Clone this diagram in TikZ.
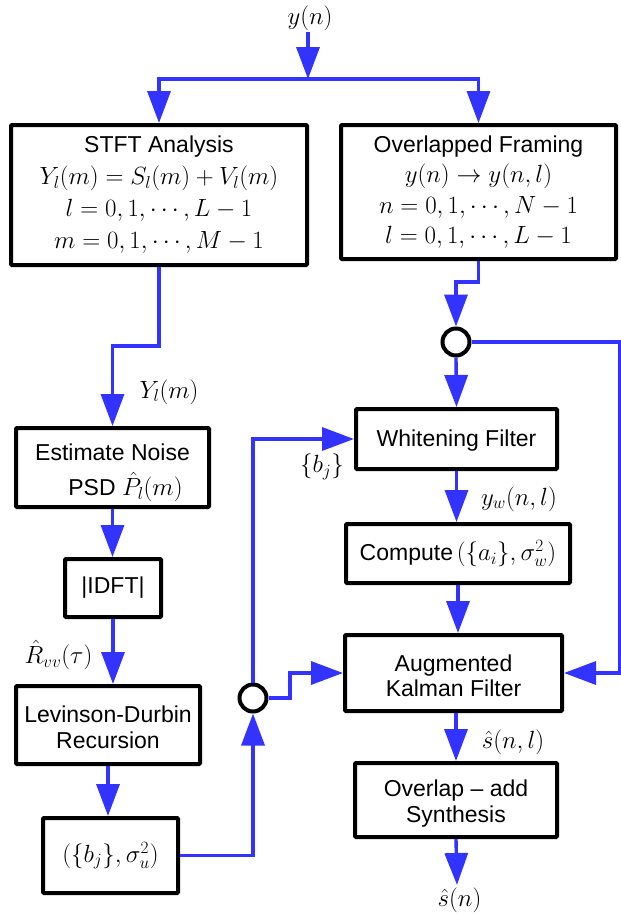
\documentclass[tikz,border=0pt]{standalone}
\usepackage[no-math]{fontspec}
\setmainfont{Liberation Sans}
\usetikzlibrary{arrows.meta,calc}
\definecolor{flowblue}{RGB}{51,51,255}
\newcommand{\mth}[1]{{\fontsize{25.5}{31}\selectfont$#1$}}
\newcommand{\lift}[1]{\rule{0pt}{#1}}
\begin{document}
\begin{tikzpicture}[x=1pt,y=-1pt,
  box/.style={draw=black, line width=4pt, rectangle, rounded corners=1pt, inner sep=0pt, align=center, fill=white},
  junc/.style={draw=black, line width=4pt, circle, inner sep=0pt, minimum size=27pt, fill=white},
  lbl/.style={inner sep=0pt, font=\fontsize{25.5}{31}\selectfont},
  flow/.style={draw=flowblue, line width=3.4pt, -{Triangle[length=32pt,width=23pt]}},
  wire/.style={draw=flowblue, line width=3.4pt}]
\useasboundingbox (0,0) rectangle (621,916);

% boxes
\node[box, minimum width=296pt, minimum height=140pt, font=\fontsize{23}{32}\selectfont] (stft) at (159,195)
  {STFT Analysis\\ \mth{Y_l(m)=S_l(m)+V_l(m)}\\ \mth{l=0,1,\cdots,L-1}\\ \mth{m=0,1,\cdots,M-1}};
\node[box, minimum width=275pt, minimum height=134pt, font=\fontsize{23}{30.5}\selectfont] (ovl) at (478.5,192)
  {Overlapped Framing\\ \mth{y(n)\rightarrow y(n,l)}\\ \mth{n=0,1,\cdots,N-1}\\ \mth{l=0,1,\cdots,L-1}};
\node[box, minimum width=193pt, minimum height=79pt, font=\fontsize{23}{35}\selectfont] (est) at (112.5,467.5)
  {\lift{27pt}Estimate Noise\\ \hspace*{26pt}PSD \mth{\hat{P}_l(m)}};
\node[box, minimum width=96pt, minimum height=58pt, font=\fontsize{23}{26}\selectfont] (idft) at (113,588) {|IDFT|};
\node[box, minimum width=184pt, minimum height=78pt, font=\fontsize{23}{26}\selectfont] (ld) at (108,725)
  {\lift{21pt}Levinson-Durbin\\Recursion};
\node[box, minimum width=135pt, minimum height=75pt, font=\fontsize{23}{26}\selectfont] (bj) at (110.5,855.5)
  {\mth{(\{b_j\},\sigma_u^2)}};
\node[box, minimum width=201pt, minimum height=60pt, font=\fontsize{23}{26}\selectfont] (wf) at (456.5,439)
  {\lift{19pt}Whitening Filter};
\node[box, minimum width=224pt, minimum height=59pt, font=\fontsize{23}{26}\selectfont] (comp) at (458,553.5)
  {Compute\,\mth{(\{a_i\},\sigma_w^2)}};
\node[box, minimum width=217pt, minimum height=76pt, font=\fontsize{23}{25}\selectfont] (akf) at (453.5,673)
  {\lift{22pt}Augmented\\Kalman Filter};
\node[box, minimum width=202pt, minimum height=74pt, font=\fontsize{23}{26}\selectfont] (ola) at (456,800)
  {\lift{23pt}Overlap -- add\\Synthesis};

% junctions
\node[junc] (c1) at (456,342) {};
\node[junc] (c2) at (253,698) {};

% free ends and bends
\coordinate (in) at (308,32);
\coordinate (split) at (308,79);
\coordinate (b1) at (112.5,346);
\coordinate (j1) at (478.5,282);
\coordinate (j2) at (290,698);
\coordinate (j3) at (620,342);
\coordinate (out) at (457,885);

% labels
\node[lbl] (ylab) at (310,18) {$y(n)$};
\node[lbl] (Ylab) at (169,392) {$Y_l(m)$};
\node[lbl] (rlab) at (58.5,655) {$\hat{R}_{vv}(\tau)$};
\node[lbl] (blab) at (322,467) {$\{b_j\}$};
\node[lbl] (ywlab) at (519,499) {$y_w(n,l)$};
\node[lbl] (snllab) at (513,742) {$\hat{s}(n,l)$};
\node[lbl] (snlab) at (459.5,900) {$\hat{s}(n)$};

% connectors
\draw[flow] (in) -- (split);
\draw[flow] (split) -| (stft.north);
\draw[flow] (split) -| (ovl.north);
\draw[flow] (stft.south) |- (b1) -- (est.north);
\draw[flow] (est.south) -- (est.south |- idft.north);
\draw[flow] (idft.south) -- (idft.south |- ld.north);
\draw[flow] (ld.south) -- (ld.south |- bj.north);
\draw[flow] (bj.east) -| (c2.south);
\draw[flow] (c2.north) |- (wf.west);
\draw[flow] (c2.east) -- (j2) |- (akf.west);
\draw[flow] (ovl.south) -- (j1) -| (c1.north);
\draw[flow] (c1.south) -- (wf.north);
\draw[flow] (c1.east) -- (j3) |- (akf.east);
\draw[flow] (wf.south) -- (wf.south |- comp.north);
\draw[flow] (comp.south) -- (comp.south |- akf.north);
\draw[flow] (akf.south -| ola.north) -- (ola.north);
\draw[flow] (ola.south) -- (out);
\end{tikzpicture}
\end{document}
